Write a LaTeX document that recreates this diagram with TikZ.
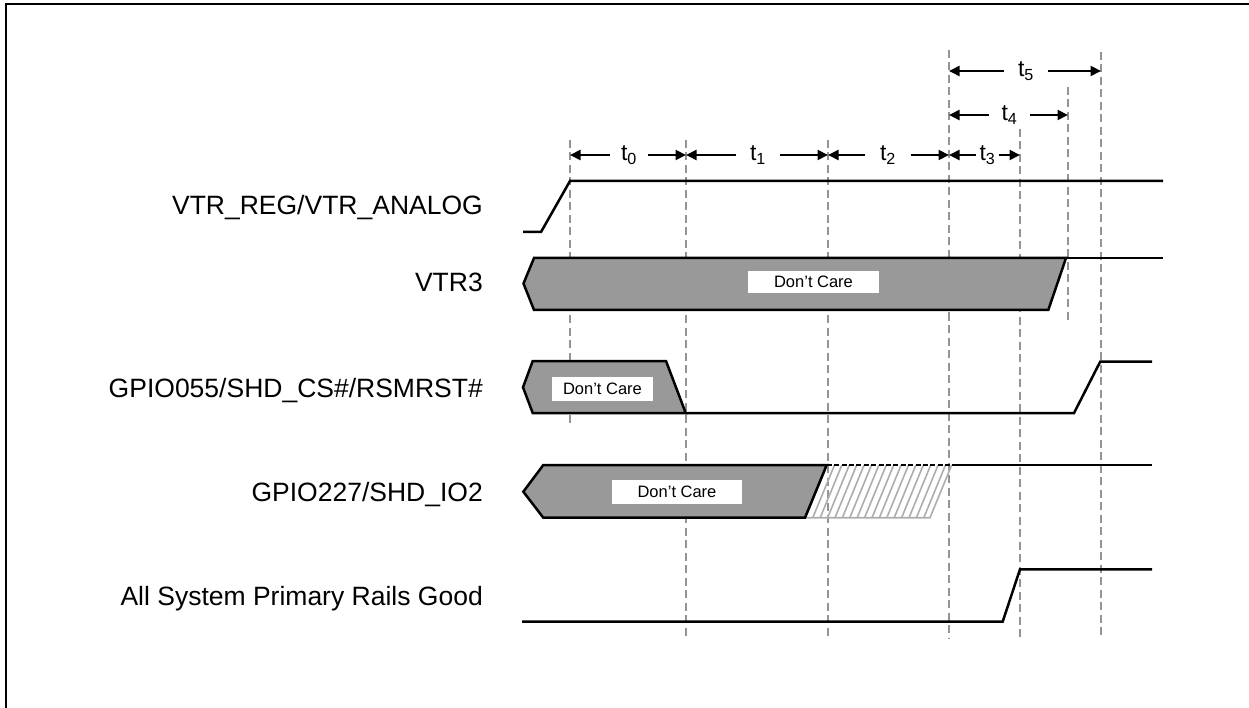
\documentclass[tikz,border=0pt]{standalone}
\usepackage{fontspec}
\setmainfont{Liberation Sans}
\usetikzlibrary{arrows.meta}
\begin{document}
\begin{tikzpicture}[x=1pt,y=-1pt,
  sig/.style={line width=2.5pt, black, line join=miter},
  guide/.style={draw=black!42, line width=2pt, dash pattern=on 8pt off 4.5pt},
  busfill/.style={fill=black!40, draw=black, line width=2.5pt, line join=miter},
  dcbox/.style={fill=white, inner sep=0pt, font=\fontsize{16.5}{18}\selectfont},
  lbl/.style={anchor=base east, inner sep=0pt, font=\fontsize{26.5}{30}\selectfont},
  tlbl/.style={inner sep=0pt, font=\fontsize{23}{25}\selectfont},
  dimarrow/.style={-{Triangle[length=10.5pt,width=10pt]}, line width=2pt},
  hatchline/.style={draw=black!32, line width=1.6pt}]
\useasboundingbox (0,0) rectangle (1249,708);
% frame
\draw[line width=2.5pt, line join=miter] (6,708) -- (6,4.2) -- (1249,4.2);

% guide lines
\coordinate (gAt) at (570,140); \coordinate (gAb) at (570,423);
\coordinate (gBt) at (686,140); \coordinate (gBb) at (686,638);
\coordinate (gCt) at (828,140); \coordinate (gCb) at (828,638);
\coordinate (gDt) at (949,50);  \coordinate (gDb) at (949,638);
\coordinate (gEt) at (1020,129); \coordinate (gEb) at (1020,638);
\coordinate (gFt) at (1068,87); \coordinate (gFb) at (1068,323);
\coordinate (gGt) at (1101,52); \coordinate (gGb) at (1101,638);
\foreach \g in {A,B,C,D,E,F,G} \draw[guide] (g\g t) -- (g\g b);

% labels
\node[lbl] (l1) at (483,215) {VTR\_REG/VTR\_ANALOG};
\node[lbl] (l2) at (483,292) {VTR3};
\node[lbl] (l3) at (483,397) {GPIO055/SHD\_CS\#/RSMRST\#};
\node[lbl] (l4) at (483,501) {GPIO227/SHD\_IO2};
\node[lbl] (l5) at (483,605) {All System Primary Rails Good};

% VTR_REG
\draw[sig] (523,232) -- (541,232) -- (570,181) -- (1163,181);

% VTR3
\draw[busfill] (523.5,283.5) -- (534,258) -- (1066,258) -- (1048.3,310) -- (534,310) -- cycle;
\draw[sig] (1066,258) -- (1163,258);
\node[dcbox, minimum width=131pt, minimum height=22pt] (dc1) at (813.5,282) {Don’t Care};

% GPIO055
\draw[busfill] (523,387.3) -- (532.7,361) -- (666,361) -- (685.7,413) -- (532.7,413) -- cycle;
\draw[sig] (685.7,413) -- (1074,413) -- (1100.3,361.5) -- (1152,361.5);
\node[dcbox, minimum width=101.6pt, minimum height=23.7pt] (dc2) at (602.5,389.2) {Don’t Care};

% GPIO227
\begin{scope}
\clip (805,517.7) -- (826.7,465) -- (951.7,465) -- (930,517.7) -- cycle;
\foreach \i in {0,...,21} \draw[hatchline] ({798+7.4*\i},517.7) -- ++(21.7,-52.7);
\end{scope}
\draw[hatchline] (805,517.7) -- (930,517.7) -- (951.7,465);
\draw[black, line width=1.5pt, dash pattern=on 5pt off 2.4pt] (826.7,465) -- (951.7,465);
\draw[busfill] (523.3,491.7) -- (543.3,465) -- (826.7,465) -- (805,517.7) -- (543.3,517.7) -- cycle;
\draw[sig] (951.7,465) -- (1152,465);
\node[dcbox, minimum width=130.6pt, minimum height=24pt] (dc3) at (677,492) {Don’t Care};

% All System Primary Rails Good
\draw[sig] (522,621.5) -- (1002.7,621.5) -- (1020,569.3) -- (1152,569.3);

% timing labels
\node[tlbl, minimum width=38pt] (t0) at (629,155) {t\textsubscript{0}};
\node[tlbl, minimum width=44pt] (t1) at (758,155) {t\textsubscript{1}};
\node[tlbl, minimum width=45pt] (t2) at (888,155) {t\textsubscript{2}};
\node[tlbl, minimum width=23pt] (t3) at (987.5,155) {t\textsubscript{3}};
\node[tlbl, minimum width=41pt] (t4) at (1009.5,115) {t\textsubscript{4}};
\node[tlbl, minimum width=44pt] (t5) at (1026,71) {t\textsubscript{5}};

\coordinate (a0) at (570,155); \coordinate (b0) at (686,155);
\coordinate (a1) at (686,155); \coordinate (b1) at (828,155);
\coordinate (a2) at (828,155); \coordinate (b2) at (949,155);
\coordinate (a3) at (949,155); \coordinate (b3) at (1020,155);
\coordinate (a4) at (949,115); \coordinate (b4) at (1068,115);
\coordinate (a5) at (949,71);  \coordinate (b5) at (1101,71);
\foreach \k in {0,...,5} {
  \draw[dimarrow] (t\k.west) -- (a\k);
  \draw[dimarrow] (t\k.east) -- (b\k);
}
\end{tikzpicture}
\end{document}
